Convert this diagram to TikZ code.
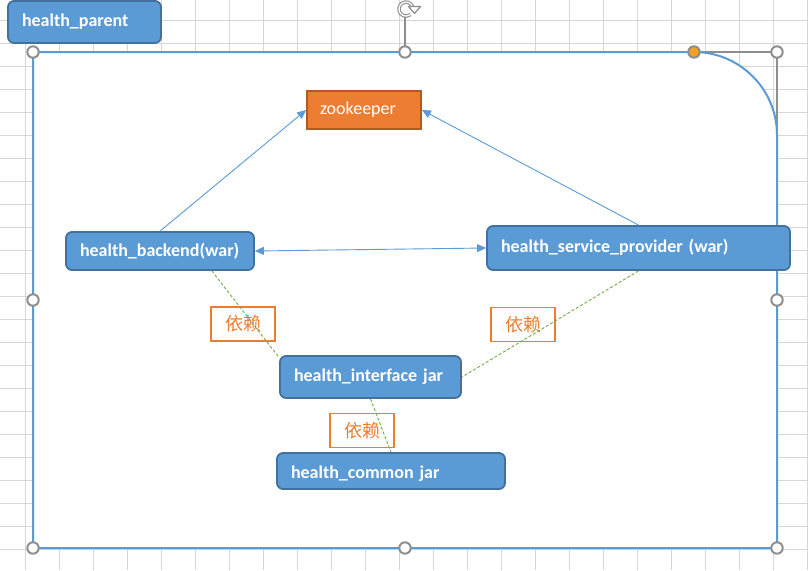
\documentclass[tikz,border=0pt]{standalone}
\usepackage{fontspec}
\setmainfont{Carlito}
\newfontfamily\cjk{Noto Sans CJK SC}
\usetikzlibrary{arrows.meta,calc}
\definecolor{boxblue}{HTML}{5B9BD5}
\definecolor{boxedge}{HTML}{41719C}
\definecolor{zkorange}{HTML}{ED7D31}
\definecolor{zkedge}{HTML}{AE5A21}
\definecolor{depgreen}{HTML}{70AD47}
\definecolor{gridgray}{HTML}{D6D6D6}
\definecolor{handlegray}{HTML}{8E8E8E}
\definecolor{handleorange}{HTML}{F4A025}
\tikzset{
  bluebox/.style={draw=boxedge, fill=boxblue, line width=1.8pt, rounded corners=6pt,
    text=white, font=\fontsize{18}{21}\selectfont\bfseries, inner ysep=0pt, align=left},
  zkbox/.style={draw=zkedge, fill=zkorange, line width=1.8pt, text=white,
    font=\fontsize{18}{21}\selectfont, inner ysep=0pt, align=left},
  deplabel/.style={draw=zkorange, line width=1.3pt, fill=white, text=zkorange,
    font=\cjk\fontsize{18}{21}\selectfont, minimum width=64pt, minimum height=34pt, inner sep=0pt},
  bluearrow/.style={draw=boxblue, line width=0.9pt, -{Triangle[length=9pt,width=8pt]}},
  dblarrow/.style={draw=boxblue, line width=0.9pt, {Triangle[length=9pt,width=8pt]}-{Triangle[length=9pt,width=8pt]}},
  depline/.style={draw=depgreen, line width=0.9pt, dash pattern=on 3pt off 2pt},
  handle/.style={draw=handlegray, fill=white, line width=2pt},
  gridline/.style={draw=gridgray, line width=1pt}
}
\begin{document}
\begin{tikzpicture}[x=1pt,y=-1pt]
\useasboundingbox (0,0) rectangle (808,570);
\fill[white] (0,0) rectangle (808,570);
% spreadsheet grid
\foreach \gx in {25,59,...,808} \draw[gridline] (\gx,0) -- (\gx,570);
\foreach \gy in {20,43,...,570} \draw[gridline] (0,\gy) -- (808,\gy);
% selection frame
\draw[handlegray, line width=1.3pt] (33,52) rectangle (777,548);
% big container shape (round single corner rectangle)
\filldraw[fill=white, draw=boxblue, line width=2pt]
  (33,52) -- (694,52) .. controls (739.8,52) and (777,89.2) .. (777,135)
  -- (777,548) -- (33,548) -- cycle;
% rotation handle
\draw[handlegray, line width=1.2pt] (405,17) -- (405,52);
\draw[handlegray, line width=1.1pt, double=white, double distance=1.3pt]
  (410.5,14.4) arc[start angle=50, end angle=345, radius=7];
\filldraw[fill=white, draw=handlegray, line width=1.2pt, line join=round]
  (408.5,6.5) -- (420.5,6.5) -- (414.5,13.5) -- cycle;
% resize handles
\foreach \hx/\hy in {33/52,405/52,777/52,33/300,777/300,33/548,405/548,777/548}
  \filldraw[handle] (\hx,\hy) circle (5.7);
\filldraw[handle, fill=handleorange] (694,52) circle (5.7);
% nodes
\node[bluebox, minimum width=153pt, minimum height=42pt, inner xsep=14pt, text width=125pt] (parent) at (84.5,22) {health\_parent};
\node[zkbox, minimum width=114pt, minimum height=38pt, inner xsep=13pt, text width=88pt] (zk) at (364,110) {zookeeper};
\node[bluebox, minimum width=188pt, minimum height=38pt, inner xsep=14pt, text width=160pt] (backend) at (160,251) {health\_backend(war)};
\node[bluebox, minimum width=303pt, minimum height=44pt, inner xsep=14pt, text width=275pt] (service) at (638.5,248) {health\_service\_provider~(war)\strut};
\node[bluebox, minimum width=181pt, minimum height=42pt, inner xsep=14pt, text width=153pt] (interface) at (370.5,377) {health\_interface~jar};
\node[bluebox, minimum width=228pt, minimum height=36pt, inner xsep=14pt, text width=200pt] (common) at (391,471) {\smash{\raisebox{-7pt}{health\_common~jar}}};
% dependency labels
\node[deplabel] (dep1) at (243,324) {依赖};
\node[deplabel] (dep2) at (523,324.5) {依赖};
\node[deplabel] (dep3) at (362,430.5) {依赖};
% connectors
\draw[bluearrow] (backend.north) -- (zk.west);
\draw[bluearrow] (service.north) -- (zk.east);
\draw[dblarrow] (backend.east) -- (service.west);
\draw[depline] (backend.-21) -- (interface.168);
\draw[depline] (service.south) -- (interface.east);
\draw[depline] (interface.south) -- (common.north);
\end{tikzpicture}
\end{document}
